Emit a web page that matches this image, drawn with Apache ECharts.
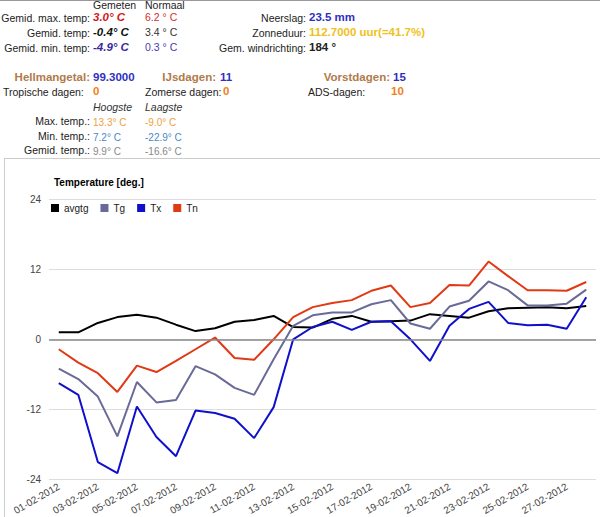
<!DOCTYPE html>
<html><head><meta charset="utf-8">
<script src="https://cdn.jsdelivr.net/npm/echarts@6/dist/echarts.min.js"></script>
<style>
html,body{margin:0;padding:0;background:#fff;width:600px;height:517px;overflow:hidden}
#chart{position:absolute;left:0;top:0;width:600px;height:517px}
.t{position:absolute;font-family:"Liberation Sans",Arial,sans-serif;font-size:10.5px;line-height:13px;white-space:nowrap;color:#222}
.r{text-align:right}
.b{font-weight:bold;font-size:11.5px}
.i{font-style:italic}
.s{font-size:10px}
#box{position:absolute;left:4px;top:158px;width:610px;height:400px;border:1px solid #ccc}
#topline{position:absolute;left:0;top:0;width:600px;height:1px;background:#999}
</style></head>
<body>
<div id="box"></div>
<div id="chart"></div>
<div id="topline"></div>
<div id="hdr"></div>
<script>
var categories = ["01-02-2012","02-02-2012","03-02-2012","04-02-2012","05-02-2012","06-02-2012","07-02-2012","08-02-2012","09-02-2012","10-02-2012","11-02-2012","12-02-2012","13-02-2012","14-02-2012","15-02-2012","16-02-2012","17-02-2012","18-02-2012","19-02-2012","20-02-2012","21-02-2012","22-02-2012","23-02-2012","24-02-2012","25-02-2012","26-02-2012","27-02-2012","28-02-2012"];
var avgtg = [1.2,1.2,2.8,3.8,4.2,3.7,2.5,1.4,1.9,3.0,3.3,4.0,2.1,2.0,3.5,4.0,3.0,3.1,3.2,4.3,4.0,3.7,4.8,5.3,5.4,5.5,5.3,5.7];
var Tg = [-5.0,-6.8,-9.8,-16.6,-7.3,-10.8,-10.4,-4.6,-6.0,-8.3,-9.5,-3.4,2.3,4.1,4.6,4.6,6.0,6.7,2.7,1.8,5.6,6.6,9.9,8.4,5.8,5.8,6.1,8.5];
var Tx = [-7.5,-9.5,-21.0,-22.9,-11.5,-16.7,-20.0,-12.2,-12.6,-13.6,-16.9,-11.6,0.0,2.1,3.0,1.6,3.0,3.1,0.0,-3.7,2.3,5.2,6.4,2.8,2.4,2.5,1.8,7.2];
var Tn = [-1.7,-4.0,-5.8,-9.0,-4.5,-5.6,-3.7,-1.7,0.3,-3.2,-3.5,0.0,3.8,5.5,6.2,6.7,8.3,9.2,5.5,6.2,9.3,9.2,13.3,10.8,8.4,8.4,8.3,9.8];
var yTicks = [-24,-12,0,12,24];

// header text: [text, x, y(top), align, classes, color]
var header = [
  ["Gemeten",93,-1,"l","","#222"],["Normaal",145,-1,"l","","#222"],
  ["Gemid. max. temp:",90,12,"r","","#222"],["3.0° C",93,11,"l","b i","#d01818"],["6.2 ° C",145,11,"l","","#d03030"],
  ["Gemid. temp:",90,27,"r","","#222"],["-0.4° C",93,26,"l","b i","#111"],["3.4 ° C",145,26,"l","","#333"],
  ["Gemid. min. temp:",90,42,"r","","#222"],["-4.9° C",93,41,"l","b i","#3a2aa0"],["0.3 ° C",145,41,"l","","#4a3ab0"],
  ["Neerslag:",306,12,"r","","#222"],["23.5 mm",309,11,"l","b","#3030c0"],
  ["Zonneduur:",306,27,"r","","#222"],["112.7000 uur(=41.7%)",309,26,"l","b","#f0c020"],
  ["Gem. windrichting:",306,42,"r","","#222"],["184 °",309,41,"l","b","#222"],
  ["Hellmangetal:",90,71,"r","b","#b07a4a"],["99.3000",93,71,"l","b","#3030c0"],
  ["IJsdagen:",216,71,"r","b","#b07a4a"],["11",220,71,"l","b","#3030c0"],
  ["Vorstdagen:",390,71,"r","b","#b07a4a"],["15",393,71,"l","b","#3030c0"],
  ["Tropische dagen:",3,86,"l","","#222"],["0",93,85,"l","b","#f08020"],
  ["Zomerse dagen:",145,86,"l","","#222"],["0",223,85,"l","b","#f08020"],
  ["ADS-dagen:",308,86,"l","","#222"],["10",391,85,"l","b","#f08020"],
  ["Hoogste",93,101,"l","i","#333"],["Laagste",145,101,"l","i","#333"],
  ["Max. temp.:",90,115,"r","","#222"],["13.3° C",93,116,"l","s","#f0a040"],["-9.0° C",145,116,"l","s","#f0a040"],
  ["Min. temp.:",90,130,"r","","#222"],["7.2° C",93,131,"l","s","#4a88c8"],["-22.9° C",145,131,"l","s","#4a88c8"],
  ["Gemid. temp.:",90,144,"r","","#222"],["9.9° C",93,145,"l","s","#888"],["-16.6° C",145,145,"l","s","#888"]
];
var hdr = document.getElementById("hdr");
header.forEach(function(h){
  var d = document.createElement("div");
  d.className = "t " + h[4] + (h[3]==="r" ? " r" : "");
  d.textContent = h[0];
  d.style.color = h[5];
  d.style.top = h[2] + "px";
  if (h[3]==="r"){ d.style.left = (h[1]-200)+"px"; d.style.width="200px"; }
  else { d.style.left = h[1]+"px"; }
  hdr.appendChild(d);
});

var chart = echarts.init(document.getElementById("chart"), null, {renderer:"svg"});
var font = "Liberation Sans, Arial, sans-serif";
function ser(name, data, color){
  return {name:name, type:"line", data:data, symbol:"none", smooth:false,
    lineStyle:{width:2, color:color}, itemStyle:{color:color}, animation:false};
}
chart.setOption({
  animation:false,
  textStyle:{fontFamily:font},
  title:{text:"Temperature [deg.]", left:49, top:172, textStyle:{fontSize:10, fontWeight:"bold", color:"#000", fontFamily:font}},
  legend:{left:46, top:198, itemWidth:8, itemHeight:8, itemGap:12, icon:"rect",
    textStyle:{fontSize:10, color:"#222", fontFamily:font},
    data:["avgtg","Tg","Tx","Tn"]},
  grid:{left:49, right:4, top:199, bottom:34, containLabel:false},
  xAxis:{type:"category", data:categories, boundaryGap:true,
    axisLine:{show:false}, axisTick:{show:false},
    axisLabel:{interval:1, rotate:30, fontSize:10, color:"#444", margin:6, fontFamily:font}},
  yAxis:{type:"value", min:-24, max:24, interval:12,
    axisLine:{show:false}, axisTick:{show:false},
    axisLabel:{fontSize:10, color:"#444", margin:8, fontFamily:font,
      formatter:function(v){ return yTicks.indexOf(v)>=0 ? String(v) : ""; }},
    splitLine:{lineStyle:{color:"#ddd", width:1}}},
  series:[
    ser("avgtg", avgtg, "#000000"),
    ser("Tg", Tg, "#6a6a98"),
    ser("Tx", Tx, "#1010cc"),
    ser("Tn", Tn, "#e03a14"),
    {type:"line", data:[], markLine:{silent:true, symbol:"none", label:{show:false},
      lineStyle:{color:"#888", type:"solid", width:1.5}, data:[{yAxis:0}]}}
  ]
});
</script>
</body></html>
